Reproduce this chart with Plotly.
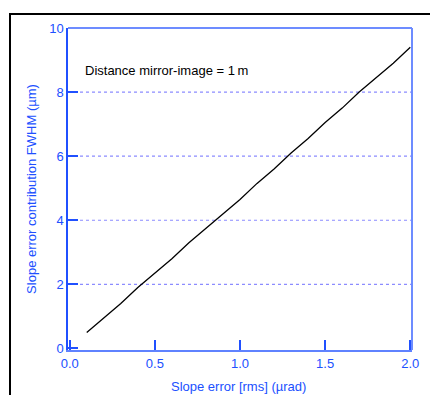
import plotly.graph_objects as go

# Slope error (rms, µrad) and its FWHM contribution at the image (µm)
slope_error = [0.1, 0.2, 0.3, 0.4, 0.5, 0.6, 0.7, 0.8, 0.9, 1.0,
               1.1, 1.2, 1.3, 1.4, 1.5, 1.6, 1.7, 1.8, 1.9, 2.0]
fwhm_contribution = [0.5, 0.95, 1.4, 1.9, 2.35, 2.8, 3.3, 3.75, 4.2, 4.65,
                     5.15, 5.6, 6.1, 6.55, 7.05, 7.5, 8.0, 8.45, 8.9, 9.4]

x_ticks = [0.0, 0.5, 1.0, 1.5, 2.0]
x_tick_labels = ["0.0", "0.5", "1.0", "1.5", "2.0"]
y_ticks = [0, 2, 4, 6, 8, 10]
y_tick_labels = ["0", "2", "4", "6", "8", "10"]

BLUE = "#2050ff"
LIGHT_BLUE = "#6d8cff"
FONT = "Liberation Sans, Arial, sans-serif"
FS = 13

fig = go.Figure()
fig.add_trace(go.Scatter(
    x=slope_error, y=fwhm_contribution, mode="lines",
    line=dict(color="black", width=1.3), showlegend=False,
))

# Grid lines at the inner y ticks
for yv in y_ticks[1:-1]:
    fig.add_shape(type="line", xref="paper", yref="y", x0=0, x1=1, y0=yv, y1=yv,
                  line=dict(color="#8c8cff", width=1.2, dash="dot"), layer="below")

# Top and right frame of the plot area
fig.add_shape(type="line", xref="paper", yref="paper", x0=0, x1=1, y0=1, y1=1,
              line=dict(color=LIGHT_BLUE, width=2))
fig.add_shape(type="line", xref="paper", yref="paper", x0=1, x1=1, y0=0, y1=1,
              line=dict(color=LIGHT_BLUE, width=2))

# Outer black frame (top and left edges)
fig.add_shape(type="path", xref="paper", yref="paper",
              path="M -0.1686 -0.2 L -0.1686 1.0435 L 1.1 1.0435",
              line=dict(color="black", width=2))

fig.add_annotation(
    text="Distance mirror-image = 1\u2009m", xref="paper", yref="paper",
    x=0.045, y=0.868, xanchor="left", yanchor="middle", showarrow=False,
    font=dict(family=FONT, size=FS, color="black"),
)

# x-axis title, placed below the tick labels
fig.add_annotation(
    text="Slope error [rms] (\u00b5rad)", xref="paper", yref="paper",
    x=0.497, y=-0.114, xanchor="center", yanchor="middle", showarrow=False,
    font=dict(family=FONT, size=FS, color=BLUE),
)

fig.update_layout(
    width=430, height=395,
    margin=dict(l=68, r=18, t=28, b=45),
    paper_bgcolor="white", plot_bgcolor="white",
    font=dict(family=FONT, color=BLUE, size=FS),
    xaxis=dict(
        range=[-0.01, 2.01], tickvals=x_ticks, ticktext=x_tick_labels,
        ticks="inside", ticklen=10, tickwidth=2, tickcolor=BLUE,
        showline=True, linecolor="#5f82ff", linewidth=2,
        showgrid=False, zeroline=False, automargin=False,
        ticklabelstandoff=0,
        tickfont=dict(family=FONT, size=FS, color=BLUE),
    ),
    yaxis=dict(
        range=[-0.05, 10], tickvals=y_ticks, ticktext=y_tick_labels,
        ticks="inside", ticklen=10, tickwidth=2, tickcolor=BLUE,
        showline=True, linecolor=BLUE, linewidth=1.5,
        showgrid=False, zeroline=False, automargin=False,
        tickfont=dict(family=FONT, size=FS, color=BLUE),
        title=dict(text="Slope error contribution FWHM (\u00b5m)", standoff=10,
                   font=dict(family=FONT, size=FS, color=BLUE)),
    ),
)

fig.write_html("out.html")
